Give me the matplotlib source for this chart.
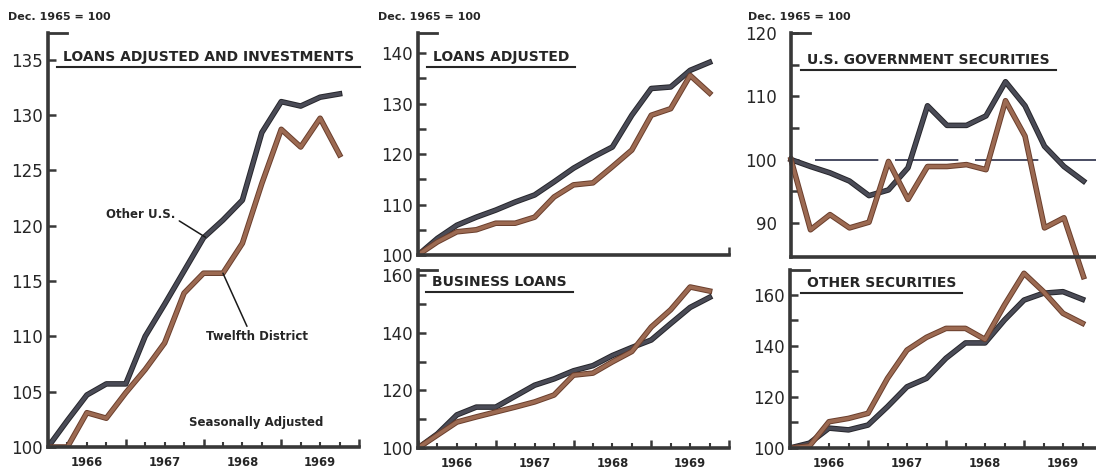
"""
Bank credit indexes, Twelfth District vs. other U.S. (Dec. 1965 = 100)
Output: out.png
"""

import numpy as np
import matplotlib.pyplot as plt
import matplotlib.patheffects as pe
from matplotlib.lines import Line2D

# quarterly observations, Dec. 1965 through Sep. 1969
quarters = ["Dec 65", "Mar 66", "Jun 66", "Sep 66", "Dec 66", "Mar 67", "Jun 67", "Sep 67",
            "Dec 67", "Mar 68", "Jun 68", "Sep 68", "Dec 68", "Mar 69", "Jun 69", "Sep 69"]
years = ["1966", "1967", "1968", "1969"]

# loans adjusted and investments
total_other = [100, 102.4, 104.7, 105.7, 105.7, 110.0, 112.9, 115.9,
               118.9, 120.5, 122.3, 128.4, 131.2, 130.8, 131.6, 131.9]
total_twelfth = [100, 100, 103.1, 102.6, 104.9, 107.0, 109.4, 113.9,
                 115.7, 115.7, 118.4, 123.8, 128.7, 127.1, 129.7, 126.4]

# loans adjusted
loans_other = [100, 103.3, 105.9, 107.5, 108.9, 110.5, 111.9, 114.5,
               117.2, 119.4, 121.4, 127.7, 133.0, 133.3, 136.6, 138.2]
loans_twelfth = [100, 102.6, 104.6, 105.0, 106.3, 106.3, 107.5, 111.5,
                 113.9, 114.3, 117.5, 120.8, 127.7, 129.0, 135.6, 132.1]

# business loans
business_other = [100, 104.9, 111.5, 114.2, 114.2, 118.0, 121.8, 124.0,
                  126.8, 128.6, 132.1, 134.9, 137.5, 143.2, 148.8, 152.3]
business_twelfth = [100, 104.5, 109.0, 110.8, 112.5, 114.2, 116.0, 118.4,
                    125.3, 126.0, 129.9, 133.5, 142.0, 148.0, 155.9, 154.5]

# U.S. government securities
govt_other = [100, 98.9, 97.9, 96.6, 94.3, 95.2, 98.7, 108.5,
              105.4, 105.4, 106.9, 112.3, 108.5, 102.1, 98.9, 96.6]
govt_twelfth = [100, 88.9, 91.3, 89.2, 90.1, 99.7, 93.7, 98.9,
                98.9, 99.2, 98.4, 109.3, 103.7, 89.2, 90.8, 81.5]

# other securities
othsec_other = [100, 101.9, 107.8, 107.1, 109.0, 116.2, 124.0, 127.3,
                135.2, 141.2, 141.2, 150.2, 158.0, 160.7, 161.3, 158.3]
othsec_twelfth = [100, 100.8, 110.3, 111.6, 113.6, 127.3, 138.4, 143.4,
                  146.9, 146.9, 142.6, 156.1, 168.5, 161.3, 152.8, 148.9]

DARK = ("#26262c", "#4a4b56")
BROWN = ("#6a3e2c", "#9c6a52")
AXC = "#383838"
TXT = "#262626"

W, H = 1096, 470
fig = plt.figure(figsize=(W / 100, H / 100), dpi=100)


def box(x0, x1, ytop, ybot):
    """Axes rectangle from pixel edges (y measured from the top)."""
    return [x0 / W, 1 - ybot / H, (x1 - x0) / W, (ybot - ytop) / H]


def draw_panel(rect, other, twelfth, ylim, labeled, unlabeled, xaxis="full", overflow=False):
    ax = fig.add_axes(rect)
    ax.patch.set_visible(False)
    x = np.arange(len(quarters))
    for vals, (edge, core) in ((other, DARK), (twelfth, BROWN)):
        ax.plot(x, vals, color=core, lw=2.6, clip_on=not overflow, zorder=2,
                path_effects=[pe.Stroke(linewidth=4.0, foreground=edge), pe.Normal()])
    ax.set_xlim(0, 16)
    ax.set_ylim(*ylim)
    for s in ("top", "right"):
        ax.spines[s].set_visible(False)
    for s in ("left", "bottom"):
        ax.spines[s].set_linewidth(2.6)
        ax.spines[s].set_color(AXC)
        ax.spines[s].set_capstyle("projecting")

    ax.set_yticks(labeled, [str(v) for v in labeled])
    ax.set_yticks(unlabeled, minor=True)
    ax.tick_params(axis="y", which="both", direction="in", length=6, width=1.8,
                   color=AXC, labelsize=12, labelcolor=TXT, pad=4)

    # bracket at the top of the value scale
    width_px = rect[2] * W
    ax.axhline(ylim[1], xmin=0, xmax=19 / width_px, color=AXC, lw=2.0, clip_on=False)

    if xaxis == "full":
        ax.set_xticks(np.arange(0, 17, 4), [""] * 5)
        ax.set_xticks([i for i in range(17) if i % 4], minor=True)
        ax.tick_params(axis="x", which="major", direction="in", length=6, width=1.8, color=AXC)
        ax.tick_params(axis="x", which="minor", direction="in", length=3.5, width=1.5, color=AXC)
        for k, yr in enumerate(years):
            ax.annotate(yr, xy=(4 * k + 2, 0), xycoords=("data", "axes fraction"),
                        xytext=(0, -11.5), textcoords="offset points", ha="center",
                        va="center", fontsize=8.3, fontweight="bold", color=TXT)
    elif xaxis == "end":
        ax.set_xticks([16], [""])
        ax.tick_params(axis="x", direction="in", length=6, width=1.8, color=AXC)
    else:
        ax.set_xticks([])
    return ax


ax_total = draw_panel(box(48, 359, 33, 447), total_other, total_twelfth, (100, 137.4),
                      list(range(100, 136, 5)), [])
ax_loans = draw_panel(box(418, 729, 33, 255), loans_other, loans_twelfth, (100, 144),
                      [100, 110, 120, 130, 140], [105, 115, 125, 135], xaxis="end")
ax_bus = draw_panel(box(418, 729, 270, 448), business_other, business_twelfth, (100, 161.8),
                    [100, 120, 140, 160], [110, 130, 150])
ax_oth = draw_panel(box(790, 1102, 270, 448), othsec_other, othsec_twelfth, (100, 169.8),
                    [100, 120, 140, 160], [110, 130, 150])
ax_govt = draw_panel(box(791, 1103, 33, 257), govt_other, govt_twelfth, (84.6, 120),
                     [90, 100, 110, 120], [95, 105, 115], xaxis="none", overflow=True)
ax_govt.set_zorder(5)
ax_govt.tick_params(axis="y", pad=10)

# base-level reference line in the government securities panel
ax_govt.axhline(100, xmin=1.25 / 16, xmax=1, color="#2a2d48", lw=1.2,
                dashes=(38, 10), zorder=1)

# scale notes
for px in (8, 378, 748):
    fig.text(px / W, 1 - 17 / H, "Dec. 1965 = 100", fontsize=8, fontweight="bold",
             color=TXT, ha="left", va="center")

# panel titles (underlined)
titles = [
    (63, 57, "LOANS ADJUSTED AND INVESTMENTS"),
    (433, 57, "LOANS ADJUSTED"),
    (432, 282, "BUSINESS LOANS"),
    (807, 60, "U.S. GOVERNMENT SECURITIES"),
    (807, 283, "OTHER SECURITIES"),
]
title_artists = [fig.text(px / W, 1 - py / H, s, fontsize=10, fontweight="bold",
                          color=TXT, ha="left", va="center")
                 for px, py, s in titles]

# series labels
ax_total.annotate("Other U.S.", xy=(8.1, total_other[8] + 0.05), xytext=(6.55, 121.0),
                  ha="right", va="center", fontsize=8.5, fontweight="bold", color=TXT,
                  arrowprops=dict(arrowstyle="-", color="#1a1a1a", lw=1.1,
                                  shrinkA=1, shrinkB=0, relpos=(1.0, 0.2)))
ax_total.annotate("Twelfth District", xy=(9.0, total_twelfth[9]), xytext=(10.75, 109.95),
                  ha="center", va="center", fontsize=8.5, fontweight="bold", color=TXT,
                  arrowprops=dict(arrowstyle="-", color="#1a1a1a", lw=1.1,
                                  shrinkA=1, shrinkB=0, relpos=(0.42, 1.0)))
ax_total.text(10.7, 102.2, "Seasonally Adjusted", ha="center", va="center",
              fontsize=8.5, fontweight="bold", color=TXT)

# underline each title
fig.canvas.draw()
inv = fig.transFigure.inverted()
for t in title_artists:
    bb = t.get_window_extent()
    (x0, y0), (x1, _) = inv.transform([(bb.x0 - 6, bb.y0 - 3), (bb.x1 + 6, bb.y0 - 3)])
    fig.add_artist(Line2D([x0, x1], [y0, y0], color=TXT, lw=1.5, transform=fig.transFigure))

fig.savefig("out.png", dpi=100, facecolor="white")
